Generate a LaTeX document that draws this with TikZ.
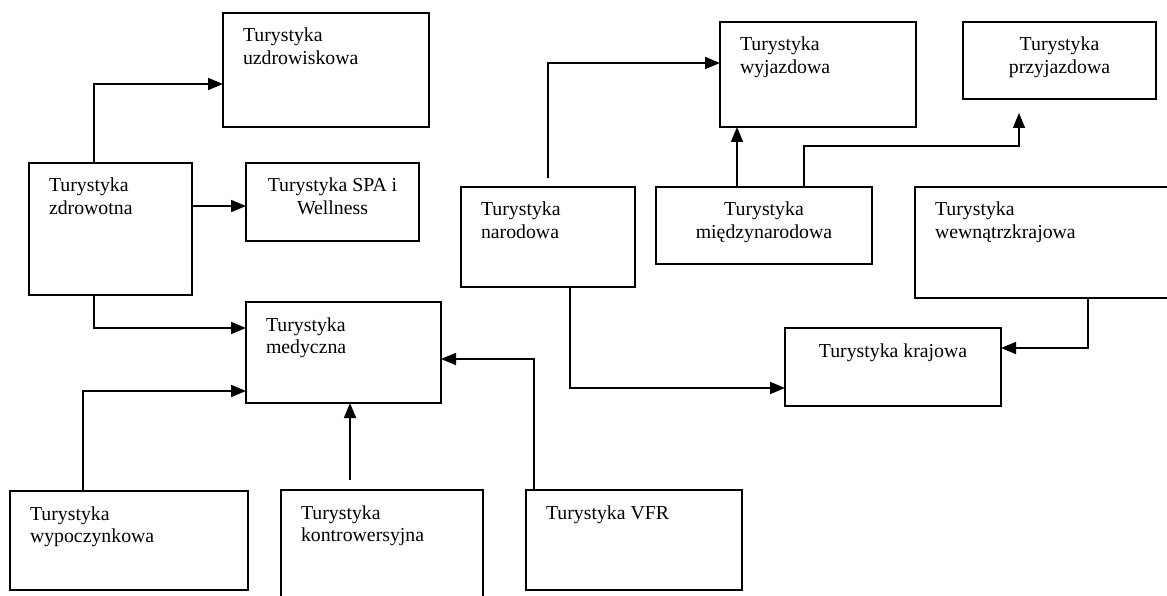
\documentclass[tikz,border=0pt]{standalone}
\usepackage{fontspec}
\setmainfont{Liberation Serif}
\usetikzlibrary{arrows.meta}

% tekst w ramce: szerokosc, wysokosc, tresc
\newcommand{\wlewo}[3]{\parbox[t][#2pt][t]{#1pt}{\raggedright\leftskip=20pt\rule{0pt}{29pt}#3}}
\newcommand{\wsrodku}[3]{\parbox[t][#2pt][t]{#1pt}{\centering\rule{0pt}{29pt}#3}}

\begin{document}
\begin{tikzpicture}[x=1pt, y=-1pt,
  blok/.style={draw, line width=1.7pt, inner sep=0pt, outer sep=0pt, anchor=north west,
    font=\fontsize{19.8}{22.5}\selectfont},
  strz/.style={line width=1.7pt, -{Triangle[length=15pt, width=12pt]}}]
\useasboundingbox (0,0) rectangle (1167,596);
\clip (0,0) rectangle (1167,596);

% lewa czesc
\node[blok] (uzdr) at (223,13) {\wlewo{206}{114}{Turystyka\\uzdrowiskowa}};
\node[blok] (zdrow) at (29,163) {\wlewo{163}{132}{Turystyka\\zdrowotna}};
\node[blok] (spa) at (246,163) {\wsrodku{173}{78}{Turystyka SPA i\\Wellness}};
\node[blok] (med) at (246,302) {\wlewo{195}{101}{Turystyka\\medyczna}};
\node[blok] (wyp) at (10,491) {\wlewo{238}{99}{Turystyka\\wypoczynkowa}};
\node[blok] (kont) at (281,490) {\wlewo{202}{110}{Turystyka\\kontrowersyjna}};
\node[blok] (vfr) at (526,490) {\wlewo{216}{100}{Turystyka VFR}};

% prawa czesc
\node[blok] (nar) at (461,187) {\wlewo{174}{100}{Turystyka\\narodowa}};
\node[blok] (wyj) at (720,22) {\wlewo{196}{105}{Turystyka\\wyjazdowa}};
\node[blok] (prz) at (963,22) {\wsrodku{193}{77}{Turystyka\\przyjazdowa}};
\node[blok] (mie) at (656,187) {\wsrodku{216}{77}{Turystyka\\międzynarodowa}};
\node[blok] (wew) at (915,187) {\wlewo{270}{111}{Turystyka\\wewnątrzkrajowa}};
\node[blok] (kraj) at (785,328) {\wsrodku{216}{78}{Turystyka krajowa}};

% strzalki
\draw[strz] ([xshift=65pt]zdrow.north west) |- ([yshift=-71pt]uzdr.north west);
\draw[strz] ([yshift=-43pt]zdrow.north east) -- ([yshift=-43pt]spa.north west);
\draw[strz] ([xshift=65pt]zdrow.south west) |- ([yshift=-26pt]med.north west);
\draw[strz] ([xshift=73pt]wyp.north west) |- ([yshift=-89pt]med.north west);
\draw[strz] ([xshift=69pt,yshift=10pt]kont.north west) -- ([xshift=104pt]med.south west);
\draw[strz] ([xshift=8pt]vfr.north west) |- ([yshift=-57pt]med.north east);

\draw[strz] ([xshift=87pt,yshift=9pt]nar.north west) |- ([yshift=-41pt]wyj.north west);
\draw[strz] ([xshift=81pt]mie.north west) -- ([xshift=17pt]wyj.south west);
\draw[strz] ([xshift=148pt]mie.north west) |- ([xshift=56pt,yshift=-47pt]prz.south west)
  -- ([xshift=56pt,yshift=-14pt]prz.south west);
\draw[strz] ([xshift=173pt]wew.south west) |- ([yshift=-20pt]kraj.north east);
\draw[strz] ([xshift=109pt]nar.south west) |- ([yshift=-60pt]kraj.north west);

\end{tikzpicture}
\end{document}
